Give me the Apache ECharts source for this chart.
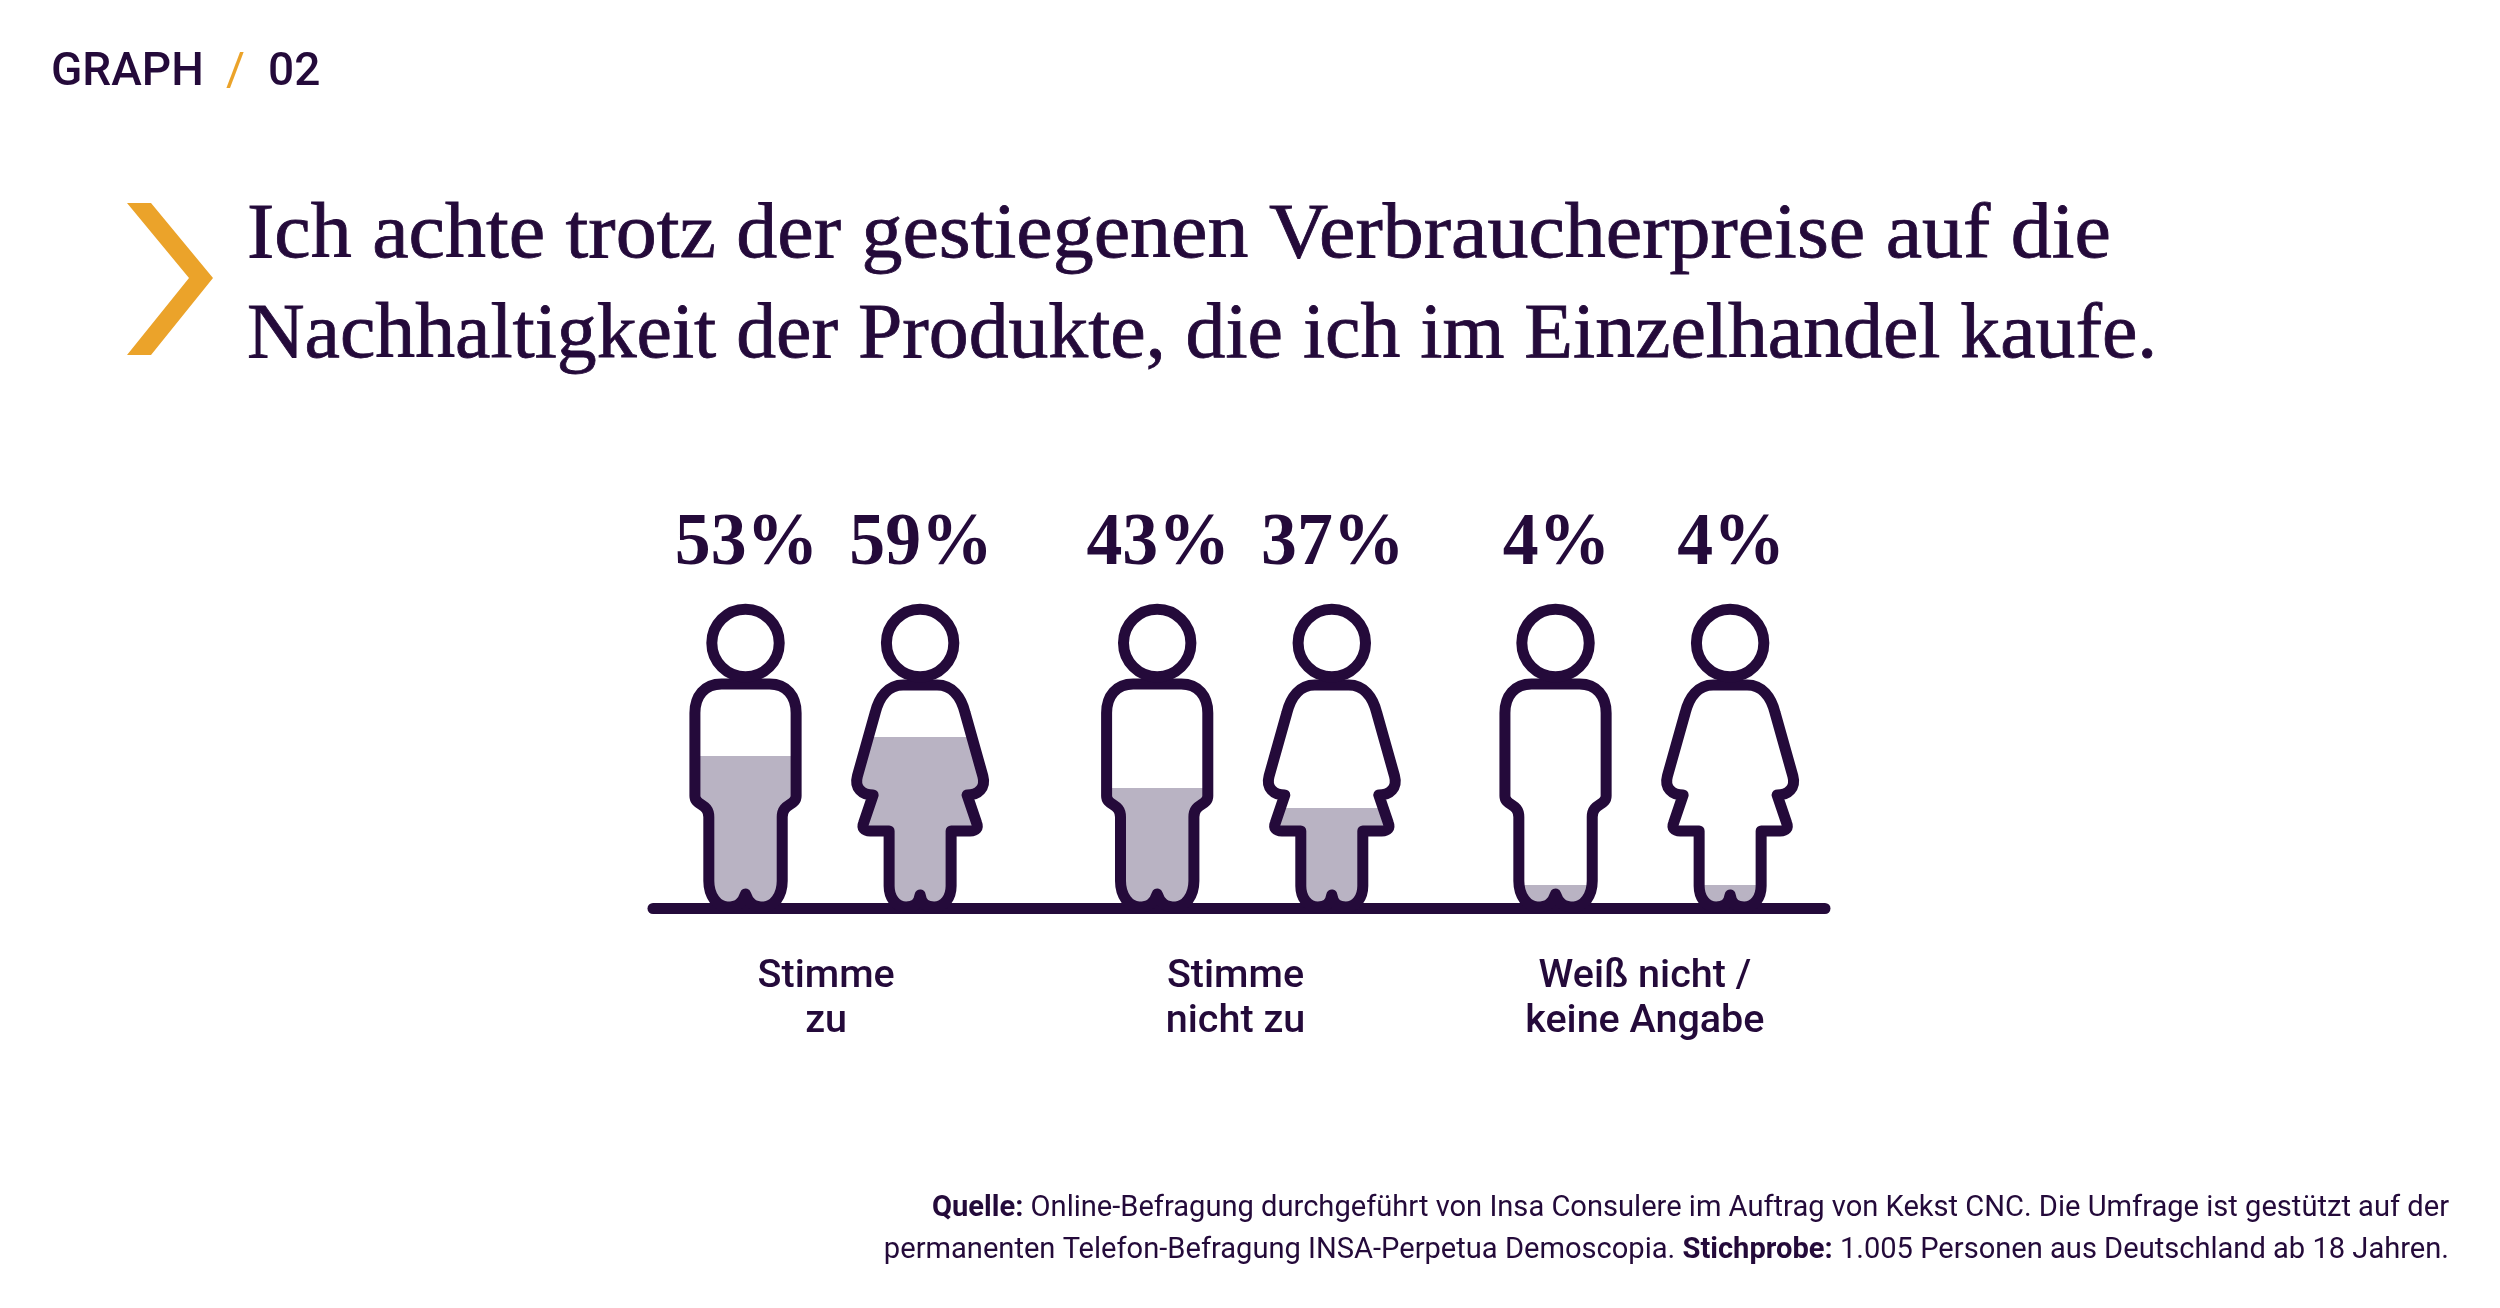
<!DOCTYPE html>
<html>
<head>
<meta charset="utf-8">
<style>html,body{margin:0;padding:0;background:#fff}#chart{width:2500px;height:1308px}</style>
<script src="https://cdn.jsdelivr.net/npm/echarts@6/dist/echarts.min.js"></script>
</head>
<body>
<div id="chart"></div>
<script>
var categories = ['Stimme\nzu', 'Stimme\nnicht zu', 'Weiß nicht /\nkeine Angabe'];
// Prozentwerte wie beschriftet
var menShare = [53, 43, 4];
var womenShare = [59, 37, 4];
var menFill = [49, 38.3, 6];
var womenFill = [55.3, 31.7, 6];

var DARK = '#240a3a';
var FILL = '#b9b3c3';
var ORANGE = '#eba32a';
var SERIF = '"Liberation Serif", serif';
var SANS = 'Roboto, sans-serif';

// Figuren relativ zum Fußpunkt
var MAN_BODY = 'M0,-219 L-24,-219 C-41,-219 -50.6,-207 -50.6,-190 L-50.6,-107 C-50.6,-97 -36.7,-100 -36.7,-86 ' +
  'L-36.7,-22 C-36.7,-7 -28,4 -18,4 C-8,4 -3,0 0,-9 C3,0 8,4 18,4 C28,4 36.7,-7 36.7,-22 ' +
  'L36.7,-86 C36.7,-100 50.6,-97 50.6,-107 L50.6,-190 C50.6,-207 41,-219 24,-219 Z';
var WOMAN_BODY = 'M0,-218 L-17,-218 C-32,-218 -41,-206 -45,-190 L-62.7,-127 C-66,-115 -58,-108 -47,-108 ' +
  'L-56.5,-80 C-58.5,-75 -56,-72 -50,-72 L-31,-72 L-31,-17 C-31,-5 -24,4 -14,4 C-6,4 -1.5,1 0,-8 ' +
  'C1.5,1 6,4 14,4 C24,4 31,-5 31,-17 L31,-72 L50,-72 C56,-72 58.5,-75 56.5,-80 L47,-108 ' +
  'C58,-108 66,-115 62.7,-127 L45,-190 C41,-206 32,-218 17,-218 Z';

// Feinkorrektur der Gruppenmitte gegenüber der Achsenmitte
var GROUP_NUDGE = [6.65, 9, -2];
var HALF_PAIR = 87.3;

function personSeries(name, shares, fills, side, body) {
  return {
    name: name,
    type: 'custom',
    xAxisIndex: 0,
    yAxisIndex: 0,
    clip: false,
    silent: true,
    z: 5,
    data: fills.map(function (v, i) { return [i, v, shares[i]]; }),
    renderItem: function (params, api) {
      var idx = api.value(0);
      var base = api.coord([idx, 0]);
      var top = api.coord([idx, api.value(1)]);
      var level = base[1] - top[1];
      return {
        type: 'group',
        x: base[0] + GROUP_NUDGE[idx] + side * HALF_PAIR,
        y: base[1],
        children: [
          {
            type: 'path',
            shape: { pathData: body },
            style: { fill: FILL, stroke: null },
            clipPath: { type: 'rect', shape: { x: -100, y: -level, width: 200, height: level + 10 } }
          },
          {
            type: 'path',
            shape: { pathData: body },
            style: { fill: 'none', stroke: DARK, lineWidth: 11, lineJoin: 'round', lineCap: 'round' }
          },
          {
            type: 'circle',
            shape: { cx: 0, cy: -260, r: 33.7 },
            style: { fill: 'none', stroke: DARK, lineWidth: 11 }
          },
          {
            type: 'text',
            x: 1,
            y: -358,
            scaleX: 0.97,
            style: {
              text: api.value(2) + '%',
              align: 'center',
              verticalAlign: 'middle',
              fontFamily: SERIF,
              fontWeight: 'bold',
              fontSize: 74,
              fill: DARK
            }
          }
        ]
      };
    }
  };
}

function headline(text, y, scaleX) {
  return {
    type: 'text',
    silent: true,
    x: 247,
    y: y,
    scaleX: scaleX,
    style: {
      text: text,
      verticalAlign: 'middle',
      fontFamily: SERIF,
      fontWeight: 400,
      fontSize: 78,
      fill: DARK,
      stroke: DARK,
      lineWidth: 0.8
    }
  };
}

function sourceLine(text, top) {
  return {
    text: text,
    right: 46,
    top: top,
    textStyle: {
      color: DARK, fontFamily: SANS, fontWeight: 400, fontSize: 29.1, lineHeight: 43,
      rich: { b: { color: DARK, fontFamily: SANS, fontWeight: 700, fontSize: 29.1, lineHeight: 43 } }
    }
  };
}

var chart = echarts.init(document.getElementById('chart'));
chart.setOption({
  animation: false,
  backgroundColor: '#fff',
  title: [
    { text: 'GRAPH', left: 46, top: 45, textStyle: { color: DARK, fontFamily: SANS, fontWeight: 500, fontSize: 46 } },
    { text: '/', left: 221, top: 45, textStyle: { color: ORANGE, fontFamily: SANS, fontWeight: 400, fontSize: 46 } },
    { text: '02', left: 263, top: 45, textStyle: { color: DARK, fontFamily: SANS, fontWeight: 500, fontSize: 46 } },
    sourceLine('{b|Quelle:} Online-Befragung durchgeführt von Insa Consulere im Auftrag von Kekst CNC. Die Umfrage ist gestützt auf der', 1182),
    sourceLine('permanenten Telefon-Befragung INSA-Perpetua Demoscopia. {b|Stichprobe:} 1.005 Personen aus Deutschland ab 18 Jahren.', 1224)
  ],
  graphic: [
    {
      type: 'polygon',
      silent: true,
      shape: { points: [[127, 203], [151, 203], [213, 278], [151, 355], [127, 355], [189, 278]] },
      style: { fill: ORANGE }
    },
    headline('Ich achte trotz der gestiegenen Verbraucherpreise auf die', 237, 1.051),
    headline('Nachhaltigkeit der Produkte, die ich im Einzelhandel kaufe.', 337, 1.022)
  ],
  grid: [
    { left: 621.5, width: 1228, top: 603, height: 300 },
    { left: 653, width: 1172, top: 608.5, height: 300 }
  ],
  xAxis: [
    {
      type: 'category',
      gridIndex: 0,
      data: categories,
      axisLine: { show: false },
      axisTick: { show: false },
      axisLabel: { color: DARK, fontFamily: SANS, fontWeight: 500, fontSize: 39.5, lineHeight: 45, margin: 52 }
    },
    {
      type: 'category',
      gridIndex: 1,
      data: categories,
      axisLine: { show: true, lineStyle: { color: DARK, width: 11, cap: 'round' } },
      axisTick: { show: false },
      axisLabel: { show: false }
    }
  ],
  yAxis: [
    { type: 'value', gridIndex: 0, min: 0, max: 100, show: false },
    { type: 'value', gridIndex: 1, min: 0, max: 100, show: false }
  ],
  series: [
    personSeries('Männer', menShare, menFill, -1, MAN_BODY),
    personSeries('Frauen', womenShare, womenFill, 1, WOMAN_BODY)
  ]
});
</script>
</body>
</html>
